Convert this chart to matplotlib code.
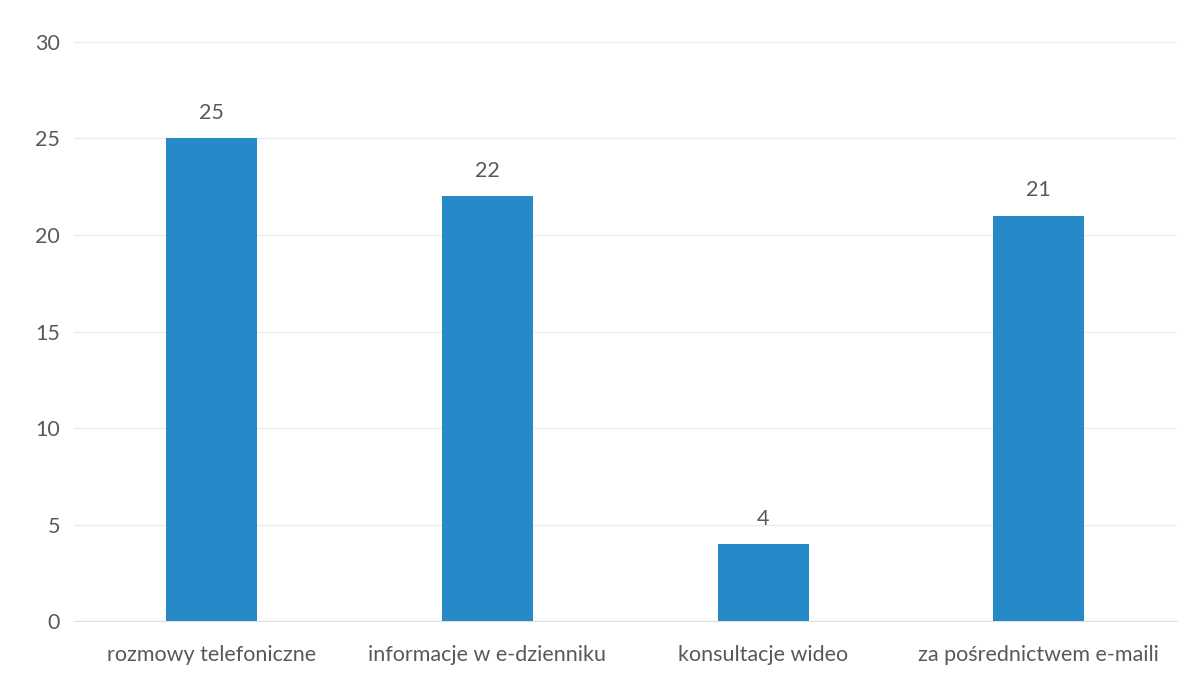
import matplotlib.pyplot as plt

# dane z wykresu
kategorie = ["rozmowy telefoniczne", "informacje w e-dzienniku",
             "konsultacje wideo", "za pośrednictwem e-maili"]
wartosci = [25, 22, 4, 21]
y_ticks = [0, 5, 10, 15, 20, 25, 30]

plt.rcParams['font.family'] = ['Lato', 'DejaVu Sans']
text_color = '#595959'

fig = plt.figure(figsize=(11.92, 6.76), dpi=100)
ax = fig.add_axes([0.062, 0.081, 0.925, 0.857])

x = range(len(kategorie))
bars = ax.bar(x, wartosci, width=0.33, color='#2689c8', zorder=3)

for xi, v in zip(x, wartosci):
    ax.text(xi, v + 0.8, str(v), ha='center', va='bottom',
            fontsize=15.5, color=text_color)

ax.set_xlim(-0.5, 3.5)
ax.set_ylim(0, 30)
ax.set_yticks(y_ticks)
ax.set_xticks(list(x))
ax.set_xticklabels(kategorie)
ax.tick_params(axis='both', length=0, labelsize=15.5, colors=text_color)
ax.tick_params(axis='x', pad=17)
ax.tick_params(axis='y', pad=10)

ax.grid(axis='y', color='#ececec', linewidth=1.0, zorder=0)
for s in ['top', 'right', 'left']:
    ax.spines[s].set_visible(False)
ax.spines['bottom'].set_color('#e0e0e0')

fig.savefig('out.png', dpi=100)
